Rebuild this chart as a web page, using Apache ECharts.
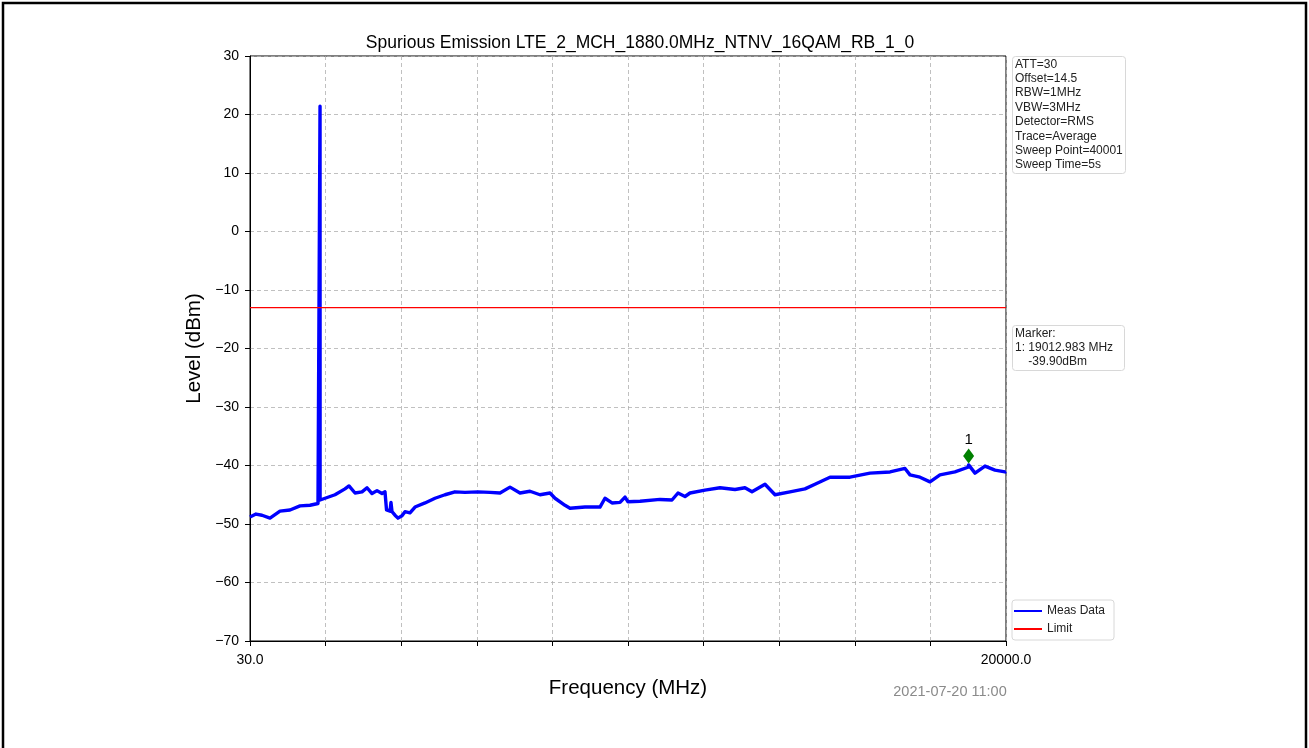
<!DOCTYPE html>
<html>
<head>
<meta charset="utf-8">
<script src="https://cdn.jsdelivr.net/npm/echarts@6/dist/echarts.min.js"></script>
<style>
html,body{margin:0;padding:0;background:#fff;}
#chart{width:1309px;height:748px;}
</style>
</head>
<body>
<div id="chart"></div>
<script>
var measFreq = [30, 188, 347, 558, 822, 1087, 1351, 1615, 1826, 1878, 1880, 1882, 1932, 2275, 2539, 2645, 2804, 2989, 3121, 3253, 3385, 3517, 3596, 3636, 3728, 3754, 3781, 3860, 3939, 4045, 4124, 4256, 4389, 4653, 4917, 5181, 5445, 5709, 6052, 6370, 6634, 6898, 7162, 7426, 7690, 7955, 8087, 8351, 8483, 8879, 9275, 9407, 9592, 9804, 9936, 10015, 10332, 10860, 11177, 11336, 11521, 11653, 12049, 12445, 12841, 13105, 13290, 13634, 13898, 14294, 14690, 14954, 15351, 15879, 16407, 16936, 17332, 17464, 17728, 17992, 18256, 18652, 18996, 19013, 19181, 19445, 19709, 19974, 20000];
var measLevel = [-48.8, -48.3, -48.5, -49.0, -47.8, -47.6, -46.9, -46.8, -46.5, -46.3, 21.4, -45.9, -45.7, -45.0, -44.0, -43.5, -44.7, -44.5, -43.8, -44.8, -44.3, -44.8, -44.5, -47.6, -47.8, -46.3, -47.9, -48.5, -49.0, -48.6, -47.9, -48.1, -47.1, -46.4, -45.6, -45.0, -44.5, -44.6, -44.5, -44.6, -44.7, -43.7, -44.7, -44.4, -45.0, -44.7, -45.6, -46.8, -47.3, -47.1, -47.1, -45.6, -46.4, -46.3, -45.4, -46.2, -46.1, -45.8, -45.9, -44.7, -45.3, -44.7, -44.2, -43.8, -44.1, -43.8, -44.5, -43.2, -45.0, -44.5, -44.0, -43.2, -42.0, -42.0, -41.3, -41.1, -40.5, -41.6, -42.0, -42.8, -41.6, -41.1, -40.3, -39.9, -41.3, -40.1, -40.8, -41.1, -41.0];
var limitFreq = [30, 20000];
var limitLevel = [-13, -13];
var markerFreq = [19012.983];
var markerLevel = [-39.90];
var markerNames = ['1'];
var yTicks = [-70, -60, -50, -40, -30, -20, -10, 0, 10, 20, 30];
var xTickLabels = ['30.0', '20000.0'];
var infoLines = ['ATT=30', 'Offset=14.5', 'RBW=1MHz', 'VBW=3MHz', 'Detector=RMS', 'Trace=Average', 'Sweep Point=40001', 'Sweep Time=5s'];
var markerLines = ['Marker:', '1: 19012.983 MHz', '    -39.90dBm'];
var titleText = 'Spurious Emission LTE_2_MCH_1880.0MHz_NTNV_16QAM_RB_1_0';
var dateText = '2021-07-20 11:00';

var FONT = '"Liberation Sans", Arial, sans-serif';
var chart = echarts.init(document.getElementById('chart'));

function zip(a, b) { return a.map(function (v, i) { return [v, b[i]]; }); }

var option = {
  animation: false,
  backgroundColor: '#ffffff',
  color: ['#0000ff', '#ff0000', '#008000'],
  title: {
    text: titleText, left: 635, top: 29, textAlign: 'center',
    textStyle: { fontFamily: FONT, fontSize: 17.5, fontWeight: 'normal', color: '#000' }
  },
  legend: {
    orient: 'vertical', left: 1012, top: 600,
    data: ['Meas Data', 'Limit'],
    icon: 'rect', itemWidth: 28, itemHeight: 2, itemGap: 6,
    padding: [5, 9, 5, 2],
    backgroundColor: '#fff', borderColor: '#d8d8d8', borderWidth: 1, borderRadius: 3,
    textStyle: { fontFamily: FONT, fontSize: 12, color: '#222' }
  },
  grid: { left: 250, top: 56, width: 756, height: 585, show: true, borderColor: '#000', borderWidth: 1, backgroundColor: 'transparent' },
  xAxis: [
    { type: 'value', min: 30, max: 20000, show: false },
    {
      type: 'value', min: 0, max: 10, interval: 1, position: 'bottom',
      name: 'Frequency (MHz)', nameLocation: 'middle', nameGap: 37,
      nameTextStyle: { fontFamily: FONT, fontSize: 20.5, color: '#000' },
      axisLine: { show: true, lineStyle: { color: '#000', width: 1 } },
      axisTick: { show: true, length: 5, inside: false, lineStyle: { color: '#000' } },
      axisLabel: {
        fontFamily: FONT, fontSize: 14, color: '#000', margin: 12, showMinLabel: true, showMaxLabel: true,
        formatter: function (v) { return v === 0 ? xTickLabels[0] : (v === 10 ? xTickLabels[1] : ''); }
      },
      splitLine: { show: true, lineStyle: { color: '#b0b0b0', type: [4, 3], width: 0.8 } }
    }
  ],
  yAxis: {
    type: 'value', min: yTicks[0], max: yTicks[yTicks.length - 1], interval: 10,
    name: 'Level (dBm)', nameLocation: 'middle', nameGap: 44,
    nameTextStyle: { fontFamily: FONT, fontSize: 20.5, color: '#000' },
    axisLine: { show: true, lineStyle: { color: '#000', width: 1 } },
    axisTick: { show: true, length: 5, lineStyle: { color: '#000' } },
    axisLabel: {
      fontFamily: FONT, fontSize: 14, color: '#000', margin: 11,
      formatter: function (v) { return String(v).replace('-', '\u2212'); }
    },
    splitLine: { show: true, lineStyle: { color: '#b0b0b0', type: [4, 3], width: 0.8 } }
  },
  series: [
    {
      name: 'Meas Data', type: 'line', xAxisIndex: 0, showSymbol: false, symbol: 'none',
      color: '#0000ff',
      data: zip(measFreq, measLevel),
      lineStyle: { color: '#0000ff', width: 3.4, join: 'round' }, itemStyle: { color: '#0000ff' },
      z: 3
    },
    {
      name: 'Limit', type: 'line', xAxisIndex: 0, showSymbol: false, symbol: 'none',
      color: '#ff0000',
      data: zip(limitFreq, limitLevel),
      lineStyle: { color: '#ff0000', width: 1.3, opacity: 1 }, itemStyle: { color: '#ff0000' },
      z: 4
    },
    {
      name: 'Marker', type: 'scatter', xAxisIndex: 0,
      data: markerFreq.map(function (f, i) { return { value: [f, markerLevel[i]], name: markerNames[i] }; }),
      symbol: 'diamond', symbolSize: [11, 15], symbolOffset: [0, -9],
      itemStyle: { color: '#008000', opacity: 1 },
      label: { show: true, position: 'top', distance: 1, formatter: '{b}', fontFamily: FONT, fontSize: 15, color: '#000' },
      z: 5
    }
  ],
  graphic: [
    { type: 'rect', z: -10, shape: { x: 3, y: 3, width: 1303, height: 760 }, style: { fill: 'none', stroke: '#000', lineWidth: 2.5 } },
    {
      type: 'rect', left: 1012, top: 56, z: 10,
      shape: { width: 113, height: 117, r: 3 },
      style: { fill: '#fff', stroke: '#d8d8d8', lineWidth: 1 }
    },
    {
      type: 'text', left: 1015, top: 57, z: 11,
      style: { text: infoLines.join('\n'), fontFamily: FONT, fontSize: 12, lineHeight: 14.4, fill: '#222' }
    },
    {
      type: 'rect', left: 1012, top: 325, z: 10,
      shape: { width: 112, height: 45, r: 3 },
      style: { fill: '#fff', stroke: '#d8d8d8', lineWidth: 1 }
    },
    {
      type: 'text', left: 1015, top: 326, z: 11,
      style: { text: markerLines.join('\n'), fontFamily: FONT, fontSize: 12, lineHeight: 14.4, fill: '#222' }
    },
    {
      type: 'text', x: 950, y: 692, z: 11,
      style: { text: dateText, fontFamily: FONT, fontSize: 14.5, fill: '#8a8a8a', textAlign: 'center', textVerticalAlign: 'middle' }
    }
  ]
};
chart.setOption(option);
</script>
</body>
</html>
